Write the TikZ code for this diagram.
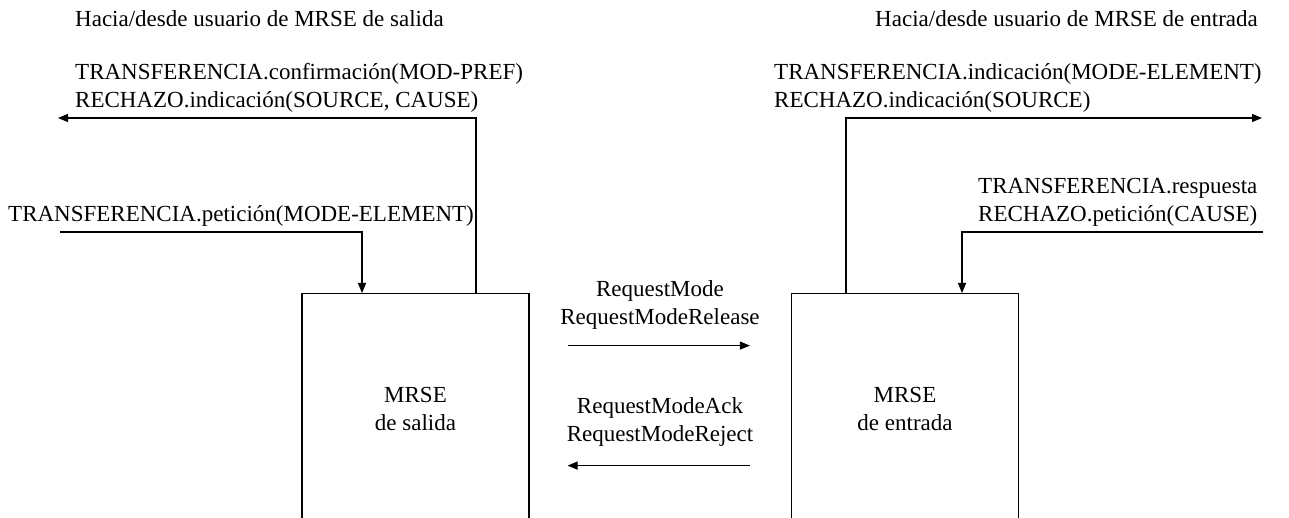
\documentclass[tikz,border=0pt]{standalone}
\usepackage{fontspec}
\setmainfont{Liberation Serif}
\usetikzlibrary{positioning,arrows.meta}

\begin{document}
\begin{tikzpicture}[
  x=1pt, y=1pt,
  font=\fontsize{23}{28}\selectfont,
  entity/.style={draw, line width=1.2pt, minimum width=227pt, minimum height=231pt, anchor=north, align=center},
  msg/.style={inner sep=0pt, align=left},
  flow/.style={line width=1.2pt, -{Triangle[length=10pt,width=8pt]}},
]
\clip (0,0) rectangle (1289,518);

% MRSE entities, open at the lower edge
\node[entity] (salida) at (415.5,225) {MRSE\\de salida};
\node[entity] (entrada) at (905,225) {MRSE\\de entrada};

% User side titles
\node[msg, anchor=base west] (tSal) at (75,491) {Hacia/desde usuario de MRSE de salida};
\node[msg, anchor=base east] (tEnt) at (1258,491) {Hacia/desde usuario de MRSE de entrada};

% Primitive labels
\node[msg, anchor=south west] (lSalOut) at (75,405) {TRANSFERENCIA.confirmación(MOD-PREF)\\RECHAZO.indicación(SOURCE, CAUSE)};
\node[msg, anchor=south west] (lSalIn) at (8,291) {TRANSFERENCIA.petición(MODE-ELEMENT)};
\node[msg, anchor=south west] (lEntOut) at (774,405) {TRANSFERENCIA.indicación(MODE-ELEMENT)\\RECHAZO.indicación(SOURCE)};
\node[msg, anchor=south west] (lEntIn) at (978,291) {TRANSFERENCIA.respuesta\\RECHAZO.petición(CAUSE)};

% Protocol messages between the entities
\node[msg, align=center, anchor=south] (lReq) at (660,188) {RequestMode\\RequestModeRelease};
\node[msg, align=center, anchor=south] (lAck) at (660,71) {RequestModeAck\\RequestModeReject};

% User side ends
\coordinate (uSalOut) at (58,400);
\coordinate (uSalIn) at (60,286);
\coordinate (uEntOut) at (1262,400);
\coordinate (uEntIn) at (1263,286);

\draw[flow] ([xshift=60.5pt]salida.north) |- (uSalOut);
\draw[flow] (uSalIn) -| ([xshift=-53.5pt]salida.north);
\draw[flow] ([xshift=-59pt]entrada.north) |- (uEntOut);
\draw[flow] (uEntIn) -| ([xshift=57pt]entrada.north);

\draw[flow] ([shift={(38,63.5)}]salida.east) -- ([shift={(-41,63.5)}]entrada.west);
\draw[flow] ([shift={(-41,-56.5)}]entrada.west) -- ([shift={(38,-56.5)}]salida.east);

\end{tikzpicture}
\end{document}
